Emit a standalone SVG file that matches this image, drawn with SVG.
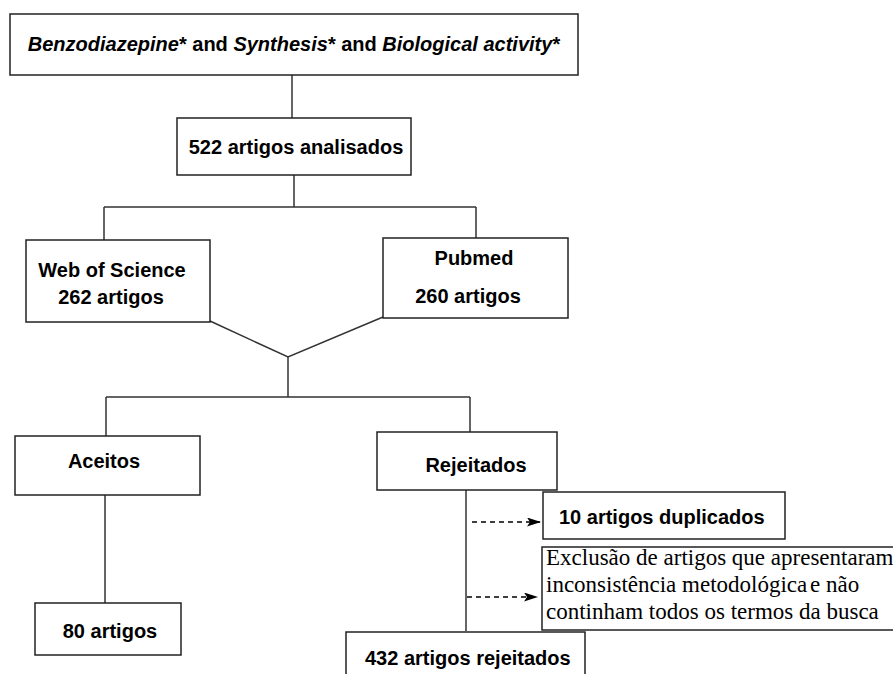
<svg xmlns="http://www.w3.org/2000/svg" width="893" height="674" viewBox="0 0 893 674">
<defs>
<style>
.box{fill:#fff;stroke:#222;stroke-width:1.5}
.ln{fill:none;stroke:#333;stroke-width:1.5}
.dash{fill:none;stroke:#000;stroke-width:1.3;stroke-dasharray:5 4}
.t{font-family:"Liberation Sans",Arial,sans-serif;font-weight:bold;font-size:20px;fill:#000}
.s{font-family:"Liberation Serif","Times New Roman",serif;font-size:23px;fill:#000}
</style>
<marker id="ah" viewBox="0 0 14 9" refX="14" refY="4.5" markerWidth="14" markerHeight="9" markerUnits="userSpaceOnUse" orient="auto">
<path d="M0,0 L14,4.5 L0,9 L3,4.5 Z" fill="#000"/>
</marker>
</defs>
<rect width="893" height="674" fill="#fff"/>
<g id="connectors">
<path class="ln" d="M292,75 V118"/>
<path class="ln" d="M294,175 V207 M104,207 H476 M104,207 V240 M476,207 V238"/>
<path class="ln" d="M210,321 L288,357 L383,317 M288,357 V397"/>
<path class="ln" d="M106,397 H470 M106,397 V436 M470,397 V432"/>
<path class="ln" d="M105,495 V603"/>
<path class="ln" d="M466,490 V631"/>
<path class="dash" d="M472,522 H541" marker-end="url(#ah)"/>
<path class="dash" d="M467,597 H538" marker-end="url(#ah)"/>
</g>
<g id="n-query">
<rect class="box" x="10" y="14" width="568" height="61"/>
<text class="t" x="294" y="51" text-anchor="middle"><tspan font-style="italic">Benzodiazepine</tspan>* and <tspan font-style="italic">Synthesis</tspan>* and <tspan font-style="italic">Biological activity</tspan>*</text>
</g>
<g id="n-522">
<rect class="box" x="177" y="118" width="234" height="57"/>
<text class="t" x="296" y="154" text-anchor="middle">522 artigos analisados</text>
</g>
<g id="n-wos">
<rect class="box" x="26" y="240" width="184" height="82"/>
<text class="t" x="112" y="277" text-anchor="middle">Web of Science</text>
<text class="t" x="111" y="304" text-anchor="middle">262 artigos</text>
</g>
<g id="n-pubmed">
<rect class="box" x="383" y="238" width="185" height="80"/>
<text class="t" x="474" y="265" text-anchor="middle">Pubmed</text>
<text class="t" x="468" y="303" text-anchor="middle">260 artigos</text>
</g>
<g id="n-aceitos">
<rect class="box" x="15" y="436" width="185" height="59"/>
<text class="t" x="104" y="468" text-anchor="middle">Aceitos</text>
</g>
<g id="n-rejeitados">
<rect class="box" x="377" y="432" width="180" height="58"/>
<text class="t" x="476" y="472" text-anchor="middle">Rejeitados</text>
</g>
<g id="n-80">
<rect class="box" x="35" y="603" width="146" height="52"/>
<text class="t" x="110" y="638" text-anchor="middle">80 artigos</text>
</g>
<g id="n-dup">
<rect class="box" x="543" y="492" width="242" height="47"/>
<text class="t" x="559" y="524">10 artigos duplicados</text>
</g>
<g id="n-excl">
<rect class="box" x="542" y="547" width="360" height="83"/>
<text class="s" x="546" y="565">Exclusão de artigos que apresentaram</text>
<text class="s" x="546" y="592">inconsistência metodológica<tspan dx="-3"> e não</tspan></text>
<text class="s" x="546" y="619">continham todos os termos da busca</text>
</g>
<g id="n-432">
<rect class="box" x="346" y="632" width="239" height="60"/>
<text class="t" x="365" y="665">432 artigos rejeitados</text>
</g>
</svg>
